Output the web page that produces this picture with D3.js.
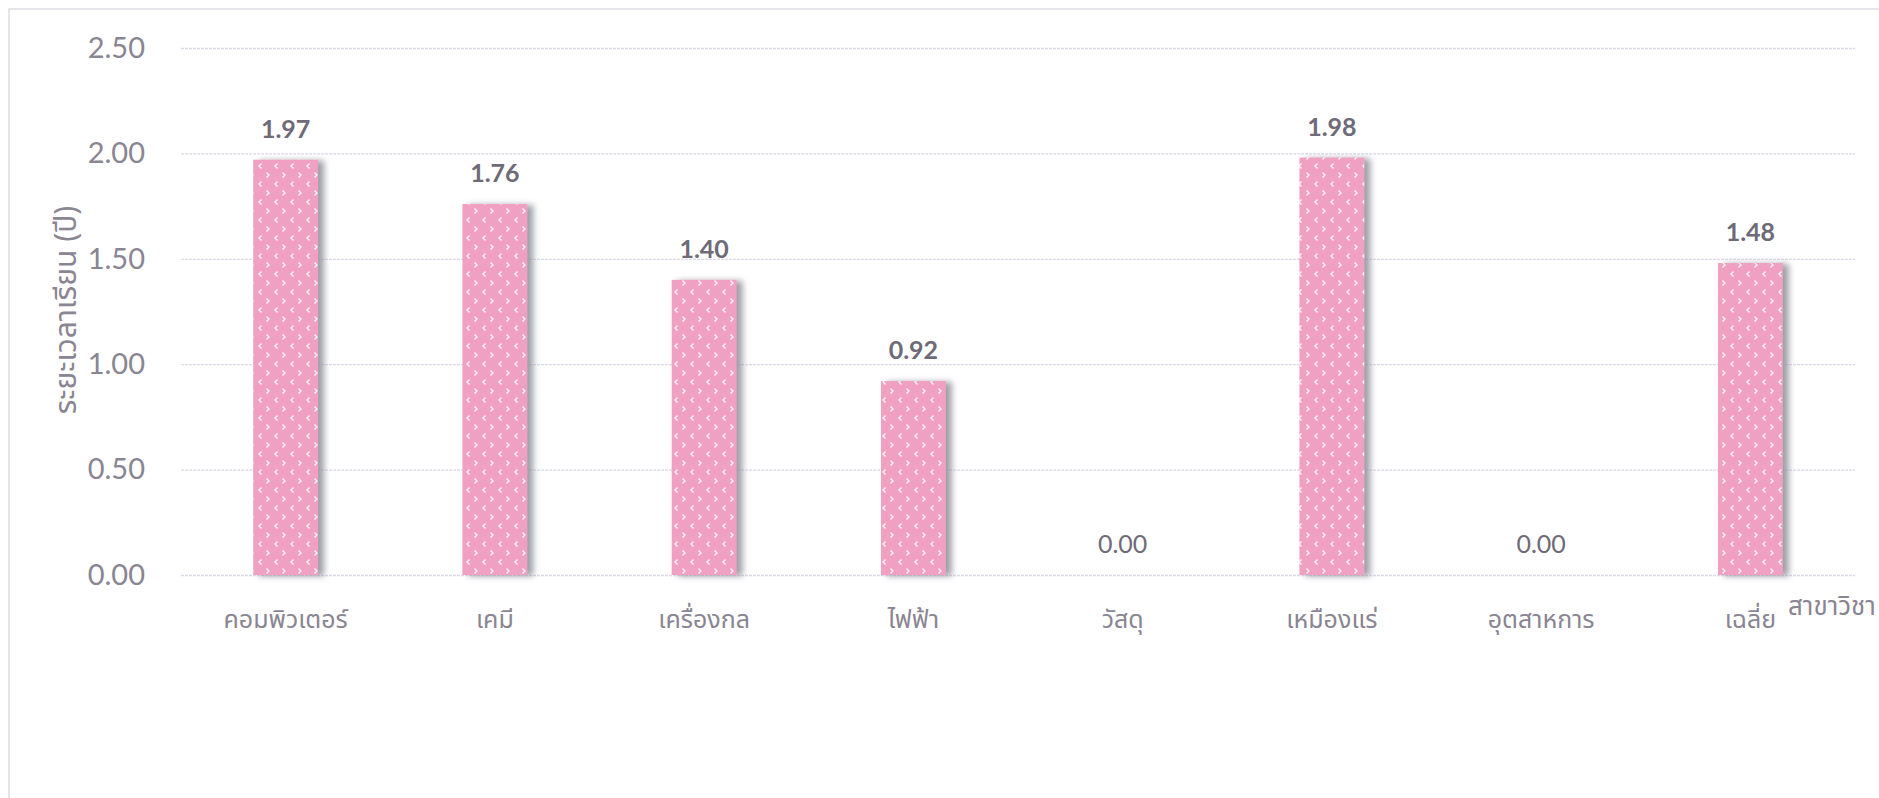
<!DOCTYPE html>
<html>
<head>
<meta charset="utf-8">
<script src="https://cdn.jsdelivr.net/npm/d3@7"></script>
<style>
  body { margin: 0; background: #fff; }
  .thai { font-family: "Noto Sans Thai", "Noto Sans", "DejaVu Sans", sans-serif; }
  .num { font-family: Lato, "Open Sans", sans-serif; }
</style>
</head>
<body>
<svg id="chart"></svg>
<script>
const categories = ['คอมพิวเตอร์', 'เคมี', 'เครื่องกล', 'ไฟฟ้า', 'วัสดุ', 'เหมืองแร่', 'อุตสาหการ', 'เฉลี่ย'];
const values = [1.97, 1.76, 1.40, 0.92, 0.00, 1.98, 0.00, 1.48];
const yTicks = [0, 0.5, 1, 1.5, 2, 2.5];
const yTitle = 'ระยะเวลาเรียน (ปี)';
const xTitle = 'สาขาวิชา';

const W = 1879, H = 798;
const plotLeft = 181, plotRight = 1855, plotTop = 48, plotBottom = 575;

const svg = d3.select('#chart')
  .attr('width', W)
  .attr('height', H);

// paper frame
svg.append('rect')
  .attr('x', 9).attr('y', 9)
  .attr('width', W).attr('height', H)
  .attr('fill', 'none')
  .attr('stroke', '#dcdce4')
  .attr('stroke-width', 1.5);

const defs = svg.append('defs');

// white little marks over pink
const pat = defs.append('pattern')
  .attr('id', 'dots')
  .attr('patternUnits', 'userSpaceOnUse')
  .attr('width', 16).attr('height', 18);
pat.append('rect').attr('width', 16).attr('height', 18).attr('fill', '#f0a0c1');
pat.append('path').attr('d', 'M5.5,1.5 L3,4 L5.5,6.5').attr('fill', 'none')
  .attr('stroke', '#fff').attr('stroke-width', 1.3).attr('opacity', 0.9);
pat.append('path').attr('d', 'M10.5,10.5 L13,13 L10.5,15.5').attr('fill', 'none')
  .attr('stroke', '#fff').attr('stroke-width', 1.3).attr('opacity', 0.9);

const shadow = defs.append('filter').attr('id', 'shadow')
  .attr('x', '-20%').attr('y', '-5%').attr('width', '150%').attr('height', '110%');
shadow.append('feDropShadow')
  .attr('dx', 6).attr('dy', 1).attr('stdDeviation', 3)
  .attr('flood-color', '#8d8d99').attr('flood-opacity', 0.85);

const x = d3.scaleBand()
  .domain(categories)
  .range([plotLeft, plotRight])
  .paddingInner(0.69)
  .paddingOuter(0.345);

const y = d3.scaleLinear()
  .domain([0, 2.5])
  .range([plotBottom, plotTop]);

// grid
const grid = svg.append('g')
  .attr('transform', `translate(${plotLeft},0)`)
  .call(d3.axisLeft(y).tickValues(yTicks).tickSize(-(plotRight - plotLeft)).tickFormat(''));
grid.select('.domain').remove();
grid.selectAll('.tick line')
  .attr('stroke', '#dcd8e8')
  .attr('stroke-width', 1.3)
  .attr('stroke-dasharray', '3,1');

// y tick labels
const yAxis = svg.append('g')
  .attr('transform', `translate(145,0)`)
  .call(d3.axisLeft(y).tickValues(yTicks).tickSize(0).tickPadding(0).tickFormat(d3.format('.2f')));
yAxis.select('.domain').remove();
yAxis.selectAll('text')
  .attr('class', 'num')
  .attr('fill', '#8a8592')
  .style('font-size', '29px')
  .style('font-weight', 400);

// bars
svg.append('g').selectAll('rect')
  .data(values)
  .join('rect')
  .attr('x', (d, i) => x(categories[i]))
  .attr('y', d => y(d))
  .attr('width', x.bandwidth())
  .attr('height', d => y(0) - y(d))
  .attr('fill', 'url(#dots)')
  .attr('filter', 'url(#shadow)');

// value labels
svg.append('g').selectAll('text')
  .data(values)
  .join('text')
  .attr('class', 'num')
  .attr('x', (d, i) => x(categories[i]) + x.bandwidth() / 2)
  .attr('y', d => y(d) - 22)
  .attr('text-anchor', 'middle')
  .attr('fill', '#6e6a77')
  .style('font-size', '25px')
  .style('font-weight', d => d > 0 ? 700 : 400)
  .text(d => d.toFixed(2));

// category labels
const xAxis = svg.append('g')
  .attr('transform', `translate(0,${plotBottom})`)
  .call(d3.axisBottom(x).tickSize(0).tickPadding(0));
xAxis.select('.domain').remove();
xAxis.selectAll('text')
  .attr('class', 'thai')
  .attr('dy', null)
  .attr('y', 53)
  .attr('fill', '#8a8592')
  .style('font-size', '25px');

// axis titles
svg.append('text')
  .attr('class', 'thai')
  .attr('transform', 'translate(76,310) rotate(-90)')
  .attr('text-anchor', 'middle')
  .attr('fill', '#8a8592')
  .style('font-size', '30px')
  .text(yTitle);

svg.append('text')
  .attr('class', 'thai')
  .attr('x', 1788).attr('y', 615)
  .attr('fill', '#8a8592')
  .style('font-size', '26px')
  .text(xTitle);
</script>
</body>
</html>
